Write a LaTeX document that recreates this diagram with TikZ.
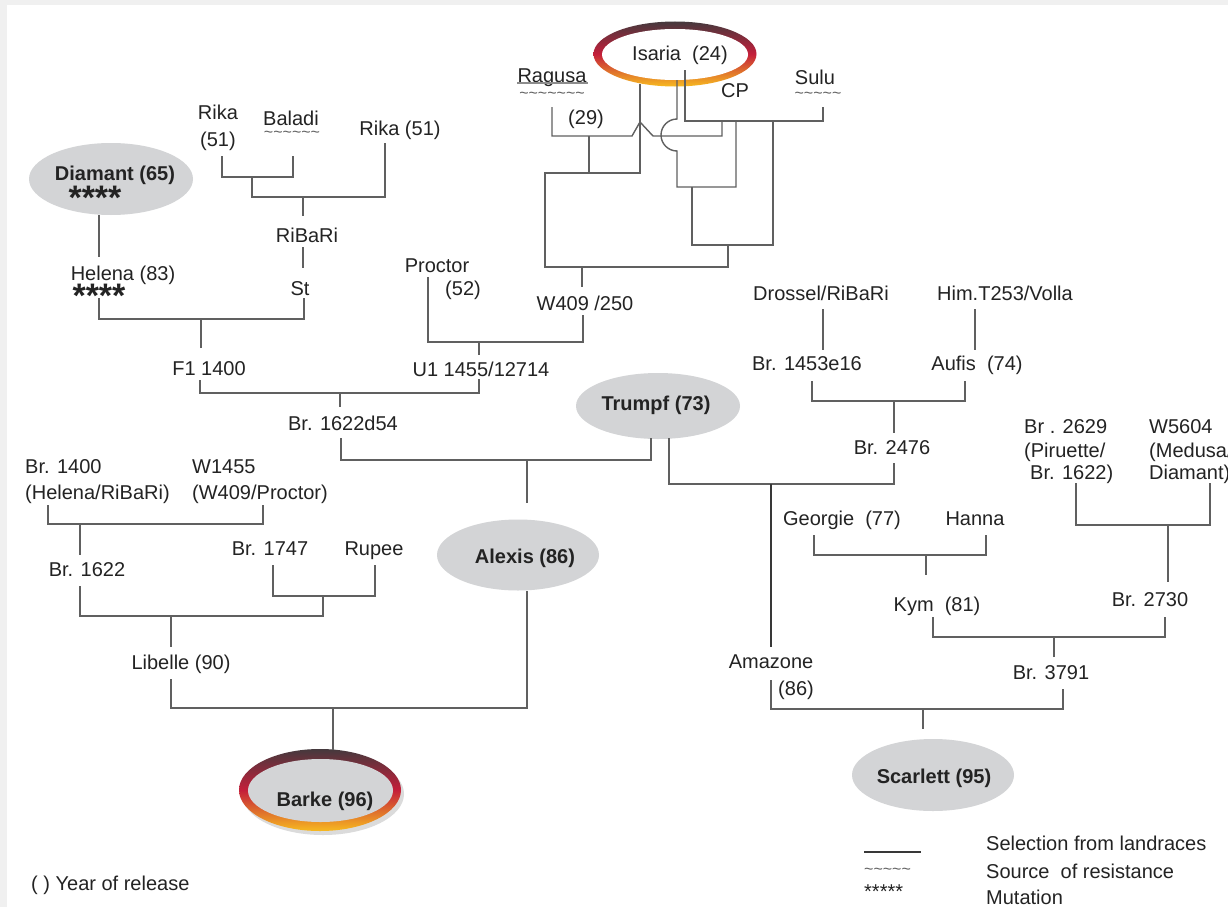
\documentclass[tikz,border=0pt]{standalone}
\usepackage{fontspec}
\setmainfont{Liberation Sans}
\usetikzlibrary{shapes.geometric}
\definecolor{ln}{HTML}{606060}
\definecolor{lnd}{HTML}{383838}
\definecolor{txt}{HTML}{232323}
\definecolor{ell}{HTML}{D3D4D6}
\definecolor{rtop}{HTML}{45393D}
\definecolor{rmid}{HTML}{C41E3A}
\definecolor{rbot}{HTML}{F7BA20}
\definecolor{bg}{HTML}{F0F0F0}
\tikzset{
 lbl/.style={font=\fontsize{20}{24}\selectfont, text=txt, inner sep=0pt, text height=14.5pt, text depth=0pt},
 lbll/.style={lbl, anchor=west},
 blbl/.style={lbl, font=\fontsize{20}{24}\selectfont\bfseries},
 tld/.style={font=\fontsize{16}{18}\selectfont, text=ln, inner sep=0pt, text height=4pt, text depth=0pt},
 strs/.style={font=\fontsize{34}{36}\selectfont\bfseries, text=txt, inner sep=0pt, anchor=base},
 conn/.style={draw=ln, line width=1.4pt},
 thick conn/.style={draw=lnd, line width=2.4pt},
 gell/.style={ellipse, fill=ell, inner sep=0pt, draw=none},
 ringshade/.style={top color=rtop, bottom color=rbot, middle color=rmid},
}
\begin{document}
\begin{tikzpicture}[x=1pt,y=-1pt]
\useasboundingbox (0,0) rectangle (1228,907);
\fill[white] (0,0) rectangle (1228,907);
\fill[bg] (0,0) rectangle (7,907);
\fill[bg] (0,0) rectangle (1228,5);

% grey ellipses
\node[gell, minimum width=164pt, minimum height=72pt] (diamantE) at (111,179) {};
\node[gell, minimum width=164pt, minimum height=66pt] (trumpfE) at (658,406) {};
\node[gell, minimum width=162pt, minimum height=71pt] (alexisE) at (518,555) {};
\node[gell, minimum width=162pt, minimum height=72pt] (scarlettE) at (933,775) {};

% rings
\shade[ringshade] (675,54) ellipse [x radius=81.5pt, y radius=32.5pt];
\fill[white] (675,54.5) ellipse [x radius=73pt, y radius=25.5pt];
\fill[black!14] (323,794) ellipse [x radius=81pt, y radius=41pt];
\shade[ringshade] (320,790) ellipse [x radius=81pt, y radius=41pt];
\fill[ell] (320.5,790.5) ellipse [x radius=72.5pt, y radius=31.5pt];

% connectors, top block
\draw[conn] (685,70) -- (685,121) -- (823,121) -- (823,107);
\draw[conn] (722,121) -- (722,136) -- (653,136) -- (640,122) -- (632,136) -- (552,136) -- (552,107);
\draw[conn] (589,136) -- (589,173);
\draw[conn] (640,84) -- (640,173) -- (545,173) -- (545,267) -- (728,267) -- (728,245);
\draw[conn] (677,80) -- (677,119) .. controls (668.2,119) and (661,126.2) .. (661,135)
   .. controls (661,143.8) and (668.2,151) .. (677,151) -- (677,187) -- (736,187) -- (736,121);
\draw[conn] (692,187) -- (692,245) -- (773,245) -- (773,121);
\draw[conn] (582,267) -- (582,287);
\draw[conn] (583,315) -- (583,342) -- (428,342) -- (428,277);
\draw[conn] (479,342) -- (479,355);
\draw[conn] (479,379) -- (479,393) -- (200,393) -- (200,380);
\draw[conn] (340,393) -- (340,407);
\draw[conn] (201,348) -- (201,319);
\draw[conn] (99,298) -- (99,319) -- (304,319) -- (304,298);
\draw[conn] (diamantE.south -| 99,0) -- (99,257);
\draw[conn] (222,156) -- (222,177) -- (293,177) -- (293,156);
\draw[conn] (252,177) -- (252,197) -- (385,197) -- (385,143);
\draw[conn] (303,197) -- (303,216);
\draw[conn] (303,247) -- (303,268);

% left lower block
\draw[conn] (341,438) -- (341,460) -- (651,460) -- (651,438);
\draw[conn] (527,460) -- (527,503);
\draw[conn] (527,591) -- (527,708) -- (171,708) -- (171,679);
\draw[conn] (333,708) -- (333,750);
\draw[conn] (48,505) -- (48,524) -- (263,524) -- (263,505);
\draw[conn] (80,524) -- (80,555);
\draw[conn] (80,586) -- (80,616) -- (323,616) -- (323,596);
\draw[conn] (273,565) -- (273,596) -- (375,596) -- (375,565);
\draw[conn] (171,616) -- (171,647);

% right block
\draw[conn] (669,438) -- (669,484) -- (894,484) -- (894,463);
\draw[thick conn] (771,484) -- (771,647);
\draw[conn] (771,680) -- (771,709) -- (1063,709) -- (1063,689);
\draw[conn] (923,709) -- (923,729);
\draw[conn] (1054,657) -- (1054,637);
\draw[conn] (933,617) -- (933,637) -- (1165,637) -- (1165,617);
\draw[conn] (1168,525) -- (1168,582);
\draw[conn] (1076,483) -- (1076,525) -- (1210,525) -- (1210,483);
\draw[conn] (814,535) -- (814,555) -- (986,555) -- (986,535);
\draw[conn] (926,555) -- (926,575);
\draw[conn] (823,309) -- (823,350);
\draw[conn] (975,309) -- (975,350);
\draw[conn] (812,381) -- (812,401) -- (965,401) -- (965,381);
\draw[conn] (894,401) -- (894,433);

% labels
\node[lbl] (isaria) at (680,53) {Isaria\ \ (24)};
\node[lbl] (ragusa) at (552,75) {Ragusa};
\draw[draw=black!45, line width=2.2pt] (517,83) -- (588,83);
\node[tld] (ragusaT) at (552,96) {\textasciitilde\textasciitilde\textasciitilde\textasciitilde\textasciitilde\textasciitilde\textasciitilde};
\node[lbl] (y29) at (586,117) {(29)};
\node[lbl] (cp) at (735,90) {CP};
\node[lbl] (sulu) at (815,77) {Sulu};
\node[tld] (suluT) at (818,96) {\textasciitilde\textasciitilde\textasciitilde\textasciitilde\textasciitilde};
\node[lbl] (rika1) at (218,112) {Rika};
\node[lbl] (rika1y) at (218,139) {(51)};
\node[lbl] (baladi) at (291,118) {Baladi};
\node[tld] (baladiT) at (292,135) {\textasciitilde\textasciitilde\textasciitilde\textasciitilde\textasciitilde\textasciitilde};
\node[lbl] (rika2) at (400,128) {Rika (51)};
\node[blbl] (diamant) at (115,173) {Diamant (65)};
\node[strs] (diamantS) at (95,209) {****};
\node[lbl] (ribari) at (307,235) {RiBaRi};
\node[lbl] (helena) at (123,273) {Helena (83)};
\node[strs] (helenaS) at (99,307) {****};
\node[lbl] (st) at (300,288) {St};
\node[lbl] (proctor) at (437,265) {Proctor};
\node[lbl] (y52) at (463,288) {(52)};
\node[lbl] (w409) at (585,303) {W409 /250};
\node[lbl] (f1) at (209,368) {F1 1400};
\node[lbl] (u1) at (481,369) {U1 1455/12714};
\node[lbl] (br1622d54) at (343,423) {Br. 1622d54};
\node[blbl] (trumpf) at (656,403) {Trumpf (73)};
\node[lbl] (drossel) at (821,293) {Drossel/RiBaRi};
\node[lbl] (himt) at (1005,293) {Him.T253/Volla};
\node[lbl] (br1453) at (807,363) {Br. 1453e16};
\node[lbl] (aufis) at (977,363) {Aufis\ \ (74)};
\node[lbl] (br2476) at (892,447) {Br. 2476};
\node[lbll] (br1400) at (25,466) {Br. 1400};
\node[lbll] (br1400b) at (25,492) {(Helena/RiBaRi)};
\node[lbll] (w1455) at (192,466) {W1455};
\node[lbll] (w1455b) at (192,492) {(W409/Proctor)};
\node[blbl] (alexis) at (525,556) {Alexis (86)};
\node[lbl] (br1622) at (87,569) {Br. 1622};
\node[lbl] (br1747) at (270,548) {Br. 1747};
\node[lbl] (rupee) at (374,548) {Rupee};
\node[lbl] (libelle) at (181,662) {Libelle (90)};
\node[blbl] (barke) at (325,799) {Barke (96)};
\node[lbll] (br2629) at (1024,426) {Br . 2629};
\node[lbll] (br2629b) at (1024,450) {(Piruette/};
\node[lbll] (br2629c) at (1030,472) {Br. 1622)};
\node[lbll] (w5604) at (1149,426) {W5604};
\node[lbll] (w5604b) at (1149,450) {(Medusa/};
\node[lbll] (w5604c) at (1149,472) {Diamant)};
\node[lbl] (georgie) at (842,518) {Georgie\ \ (77)};
\node[lbl] (hanna) at (975,518) {Hanna};
\node[lbl] (kym) at (937,604) {Kym\ \ (81)};
\node[lbl] (br2730) at (1150,599) {Br. 2730};
\node[lbl] (amazone) at (771,661) {Amazone};
\node[lbl] (y86) at (796,688) {(86)};
\node[lbl] (br3791) at (1051,672) {Br. 3791};
\node[blbl] (scarlett) at (934,776) {Scarlett (95)};

% legend
\coordinate (legA) at (864,852);
\coordinate (legB) at (921,852);
\draw[draw=lnd, line width=1.6pt] (legA) -- (legB);
\node[tld, anchor=west] (legT) at (864,872) {\textasciitilde\textasciitilde\textasciitilde\textasciitilde\textasciitilde};
\node[lbll, text height=7pt] (legS) at (864,895) {*****};
\node[lbll] (leg1) at (986,843) {Selection from landraces};
\node[lbll] (leg2) at (986,871) {Source\ \ of resistance};
\node[lbll] (leg3) at (986,897) {Mutation};
\node[lbll] (year) at (31,883) {( ) Year of release};
\end{tikzpicture}
\end{document}
